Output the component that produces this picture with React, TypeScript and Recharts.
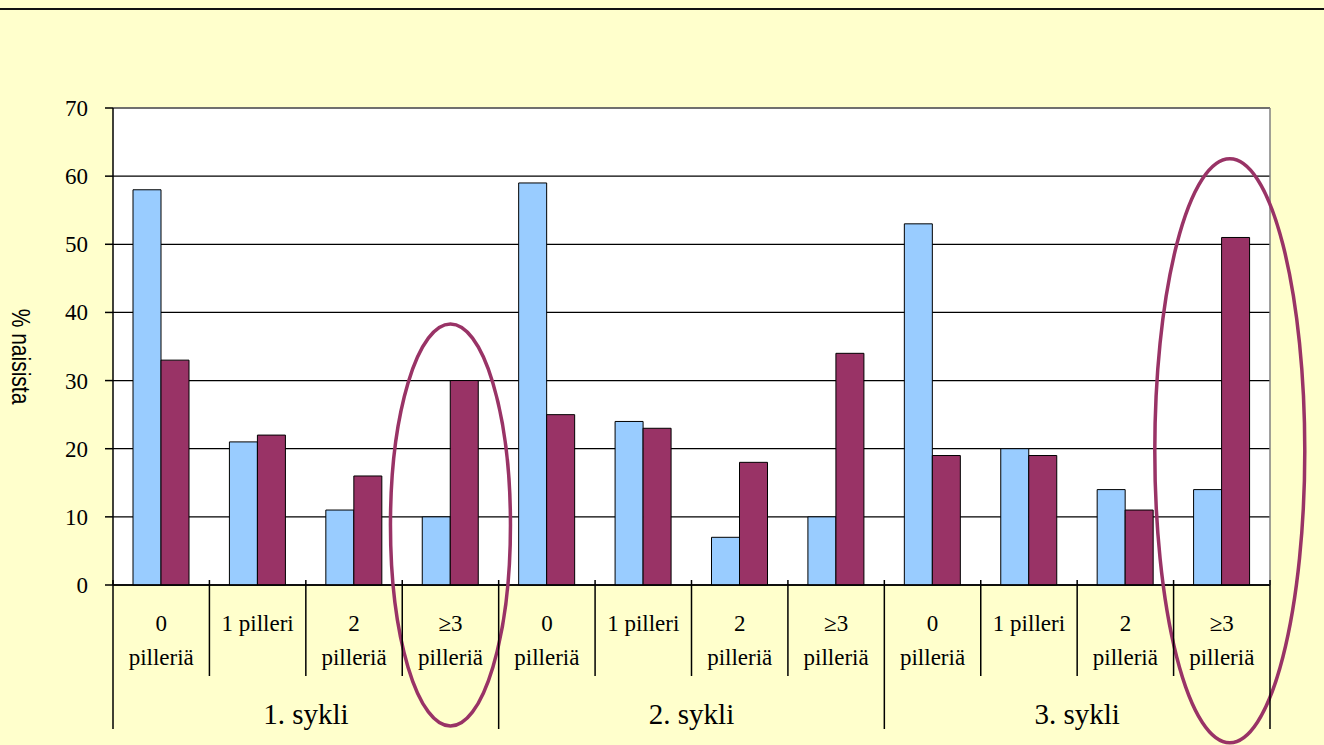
import React from "react";
import {
  BarChart,
  Bar,
  XAxis,
  YAxis,
  CartesianGrid,
  ReferenceDot,
  ReferenceLine,
} from "recharts";

// ---- data ----
const groups = ["1. sykli", "2. sykli", "3. sykli"];
const pillLabels = [["0", "pilleriä"], ["1 pilleri"], ["2", "pilleriä"], ["\u22653", "pilleriä"]];
const seriesBlue = [58, 21, 11, 10, 59, 24, 7, 10, 53, 20, 14, 14];
const seriesPurple = [33, 22, 16, 30, 25, 23, 18, 34, 19, 19, 11, 51];
const yTicks = [0, 10, 20, 30, 40, 50, 60, 70];

const data = seriesBlue.map((b, i) => ({
  key: `c${Math.floor(i / 4) + 1}-${i % 4}`,
  blue: b,
  purple: seriesPurple[i],
}));

// ---- layout ----
const W = 1324;
const H = 745;
const MARGIN = { top: 108, right: 53, bottom: 10, left: 53 };
const Y_W = 60;
const R_W = 1;
const PLOT_W = W - MARGIN.left - MARGIN.right - Y_W - R_W;
const BW = PLOT_W / data.length;
const SERIF = "'Liberation Serif', 'Times New Roman', serif";
const SANS = "'Liberation Sans', Arial, sans-serif";
const PURPLE = "#993366";
const BLUE = "#99CCFF";

const XTick = (props: any) => {
  const { x, y, payload } = props;
  const idx = payload.index ?? data.findIndex((d) => d.key === payload.value);
  const lines = pillLabels[idx % 4];
  const left = x - BW / 2;
  const isGroupStart = idx % 4 === 0;
  return (
    <g>
      <line
        x1={left}
        x2={left}
        y1={y - 5}
        y2={y + (isGroupStart ? 144 : 91)}
        stroke="#000"
        strokeWidth={1.5}
      />
      {idx === data.length - 1 && (
        <line x1={x + BW / 2} x2={x + BW / 2} y1={y - 5} y2={y + 144} stroke="#000" strokeWidth={1.5} />
      )}
      {lines.map((t, i) => (
        <text
          key={i}
          x={x}
          y={y + 46 + i * 34}
          textAnchor="middle"
          fontFamily={SERIF}
          fontSize={23}
          fill="#000"
        >
          {t}
        </text>
      ))}
      {isGroupStart && (
        <text
          x={x + 1.5 * BW}
          y={y + 139}
          textAnchor="middle"
          fontFamily={SERIF}
          fontSize={29}
          fill="#000"
        >
          {groups[Math.floor(idx / 4)]}
        </text>
      )}
    </g>
  );
};

const YTick = (props: any) => {
  const { x, y, payload } = props;
  return (
    <text x={x} y={y} dy={8} textAnchor="end" fontFamily={SERIF} fontSize={23} fill="#000">
      {payload.value}
    </text>
  );
};

const YLabel = (props: any) => {
  const vb = props.viewBox || {};
  const cx = (vb.x ?? MARGIN.left) - 32;
  const cy = (vb.y ?? MARGIN.top) + (vb.height ?? 477) / 2 + 10;
  return (
    <text
      x={cx}
      y={cy}
      transform={`rotate(90 ${cx} ${cy}) translate(${cx} ${cy}) scale(0.84 1) translate(${-cx} ${-cy})`}
      textAnchor="middle"
      dominantBaseline="central"
      fontFamily={SANS}
      fontSize={25}
      fill="#000"
    >
      % naisista
    </text>
  );
};

const makeEllipse = (rx: number, ry: number, dx: number) => (p: any) => (
  <ellipse cx={p.cx + dx} cy={p.cy} rx={rx} ry={ry} fill="none" stroke={PURPLE} strokeWidth={3.5} />
);

export default function App() {
  return (
    <div
      style={{
        position: "absolute",
        left: 0,
        top: 0,
        width: W,
        height: H,
        background: "#FFFFCC",
        overflow: "hidden",
      }}
    >
      <div
        style={{
          position: "absolute",
          left: 0,
          top: 8,
          width: W,
          height: 0,
          borderTop: "2px solid #111",
        }}
      />
      <BarChart
        width={W}
        height={H}
        data={data}
        margin={MARGIN}
        barCategoryGap={20}
        barGap={0}
      >
        <CartesianGrid vertical={false} stroke="#000" strokeWidth={1.3} fill="#fff" />
        <XAxis
          dataKey="key"
          height={H - MARGIN.top - MARGIN.bottom - 477}
          interval={0}
          tickLine={false}
          tickSize={0}
          tickMargin={0}
          axisLine={{ stroke: "#000", strokeWidth: 1.5 }}
          tick={<XTick />}
        />
        <YAxis
          width={Y_W}
          domain={[0, 70]}
          ticks={yTicks}
          interval={0}
          tickSize={8}
          tickMargin={17}
          axisLine={{ stroke: "#000", strokeWidth: 1.5 }}
          tickLine={{ stroke: "#000", strokeWidth: 1.5 }}
          tick={<YTick />}
          label={<YLabel />}
        />
        <YAxis
          yAxisId="r"
          orientation="right"
          width={R_W}
          domain={[0, 70]}
          tick={false}
          tickLine={false}
          axisLine={{ stroke: "#808080", strokeWidth: 1.5 }}
        />
        <ReferenceLine y={70} stroke="#808080" strokeWidth={1.5} />
        <Bar dataKey="blue" fill={BLUE} stroke="#000" strokeWidth={1} isAnimationActive={false} />
        <Bar dataKey="purple" fill={PURPLE} stroke="#000" strokeWidth={1} isAnimationActive={false} />
        <ReferenceDot x="c1-3" y={8.8} r={0} shape={makeEllipse(60, 201, 0)} />
        <ReferenceDot x="c3-3" y={19.7} r={0} shape={makeEllipse(75, 292, 8)} />
      </BarChart>
    </div>
  );
}
